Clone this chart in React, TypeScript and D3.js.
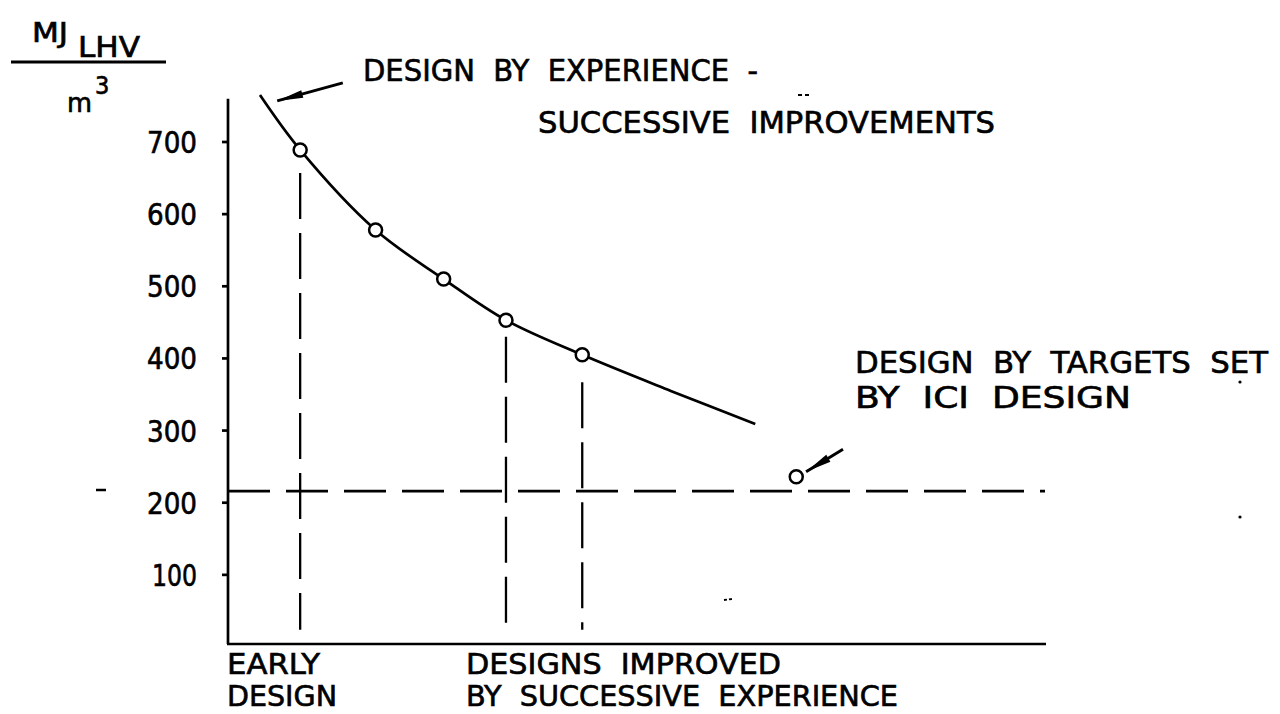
import React from "react";
import * as d3 from "d3";

// ---- data ----
const yTicks = [100, 200, 300, 400, 500, 600, 700];
// design progression (arbitrary units along x) vs MJ(LHV)/m3
const curveX = [3.9, 8.8, 18.0, 26.3, 33.9, 43.2, 54.0, 64.3];
const curveY = [765, 689, 578, 510, 453, 405, 355, 309];
const pointX = [8.8, 18.0, 26.3, 33.9, 43.2];
const pointY = [689, 578, 510, 453, 405];
const iciX = [69.3];
const iciY = [236];
const targetLevel = [216];
const dropX = [8.8, 33.9, 43.2];
const dropTop = [657, 430, 367];
const dropBottom = [24, 24, 24];
const arrowTail = [[14.0, 782], [75.0, 274]];
const arrowHead = [[6.0, 757], [70.5, 243]];

const W = 1280;
const H = 714;

export default function App() {
  const x = d3.scaleLinear().domain([0, 100]).range([228, 1048]);
  const y = d3.scaleLinear().domain([0, 700]).range([647, 142]);
  const line = d3
    .line<number>()
    .x((_, i) => x(curveX[i]))
    .y((d) => y(d))
    .curve(d3.curveCatmullRom.alpha(0.5));
  const font = "'DejaVu Sans Condensed', 'DejaVu Sans', sans-serif";
  const sw = 2.7;
  const x0 = x(0);
  const y0 = y(0);
  const yTop = y(760);

  return (
    <svg
      width={W}
      height={H}
      style={{ position: "absolute", left: 0, top: 0, background: "#fff" }}
      fontFamily={font}
    >
      <rect width={W} height={H} fill="#fff" />
      <g stroke="#000" strokeWidth={0.6}>
        {/* unit label */}
        <text x={32} y={42} fontSize={26} textLength={36} lengthAdjust="spacingAndGlyphs">MJ</text>
        <text x={78} y={57} fontSize={28} textLength={62} lengthAdjust="spacingAndGlyphs">LHV</text>
        <text x={67} y={112} fontSize={27} textLength={25} lengthAdjust="spacingAndGlyphs">m</text>
        <text x={95} y={94} fontSize={25}>3</text>
        {yTicks.map((t) => (
          <text
            key={t}
            x={197}
            y={y(t) + 11}
            fontSize={30}
            textAnchor="end"
            textLength={t === 100 ? 45 : 50}
            lengthAdjust="spacingAndGlyphs"
          >
            {t}
          </text>
        ))}
        {/* annotations */}
        <text x={363} y={81} fontSize={30} textLength={395} lengthAdjust="spacingAndGlyphs" xmlSpace="preserve">
          {"DESIGN  BY  EXPERIENCE  -"}
        </text>
        <text x={538} y={133} fontSize={30} textLength={457} lengthAdjust="spacingAndGlyphs" xmlSpace="preserve">
          {"SUCCESSIVE  IMPROVEMENTS"}
        </text>
        <text x={855} y={373} fontSize={30} textLength={413} lengthAdjust="spacingAndGlyphs" xmlSpace="preserve">
          {"DESIGN  BY  TARGETS  SET"}
        </text>
        <text x={855} y={408} fontSize={30} textLength={276} lengthAdjust="spacingAndGlyphs" xmlSpace="preserve">
          {"BY  ICI  DESIGN"}
        </text>
        <text x={227} y={674} fontSize={29} textLength={93} lengthAdjust="spacingAndGlyphs">EARLY</text>
        <text x={227} y={706} fontSize={29} textLength={110} lengthAdjust="spacingAndGlyphs">DESIGN</text>
        <text x={466} y={674} fontSize={29} textLength={315} lengthAdjust="spacingAndGlyphs" xmlSpace="preserve">
          {"DESIGNS  IMPROVED"}
        </text>
        <text x={466} y={706} fontSize={29} textLength={432} lengthAdjust="spacingAndGlyphs" xmlSpace="preserve">
          {"BY  SUCCESSIVE  EXPERIENCE"}
        </text>
      </g>
      <line x1={11} x2={166} y1={62} y2={62} stroke="#000" strokeWidth={3} />

      {/* axes */}
      <line x1={x0} x2={x0} y1={yTop} y2={y0 - 3} stroke="#000" strokeWidth={sw} />
      <line x1={x0 - 1} x2={1046} y1={y0 - 3} y2={y0 - 3} stroke="#000" strokeWidth={sw} />
      {yTicks.map((t) => (
        <line key={t} x1={x0 - 6} x2={x0} y1={y(t)} y2={y(t)} stroke="#000" strokeWidth={sw} />
      ))}

      {/* target dashed line */}
      <line
        x1={x0}
        x2={1045}
        y1={y(targetLevel[0])}
        y2={y(targetLevel[0])}
        stroke="#000"
        strokeWidth={sw}
        strokeDasharray="42 16"
      />
      {/* drop lines */}
      {dropX.map((dx, i) => (
        <line
          key={i}
          x1={x(dx)}
          x2={x(dx)}
          y1={y(dropTop[i])}
          y2={y(dropBottom[i])}
          stroke="#000"
          strokeWidth={2.3}
          strokeDasharray="46 14"
        />
      ))}

      {/* curve */}
      <path d={line(curveY) || ""} fill="none" stroke="#000" strokeWidth={sw} />
      {pointX.map((px, i) => (
        <circle key={i} cx={x(px)} cy={y(pointY[i])} r={6.5} fill="#fff" stroke="#000" strokeWidth={2.5} />
      ))}
      {iciX.map((px, i) => (
        <circle key={i} cx={x(px)} cy={y(iciY[i])} r={6.5} fill="#fff" stroke="#000" strokeWidth={2.5} />
      ))}

      {/* arrows */}
      {arrowTail.map((t, i) => {
        const hx = x(arrowHead[i][0]);
        const hy = y(arrowHead[i][1]);
        const tx = x(t[0]);
        const ty = y(t[1]);
        const ang = Math.atan2(hy - ty, hx - tx);
        const L = 26;
        const wdt = 4;
        const bx = hx - L * Math.cos(ang);
        const by = hy - L * Math.sin(ang);
        const nx = -Math.sin(ang) * wdt;
        const ny = Math.cos(ang) * wdt;
        return (
          <g key={i}>
            <line x1={tx} y1={ty} x2={hx} y2={hy} stroke="#000" strokeWidth={3} />
            <path d={`M${hx},${hy}L${bx + nx},${by + ny}L${bx - nx},${by - ny}Z`} fill="#000" />
          </g>
        );
      })}

      {/* scan specks seen in the reference */}
      <line x1={96} x2={106} y1={490} y2={490} stroke="#000" strokeWidth={2.5} />
      <line x1={798} x2={812} y1={95} y2={95} stroke="#000" strokeWidth={2} strokeDasharray="4 3" />
      <circle cx={1240} cy={382} r={1.6} fill="#000" />
      <circle cx={1240} cy={517} r={1.6} fill="#000" />
      <line x1={724} x2={732} y1={600} y2={599} stroke="#000" strokeWidth={2} strokeDasharray="3 2" />
    </svg>
  );
}
